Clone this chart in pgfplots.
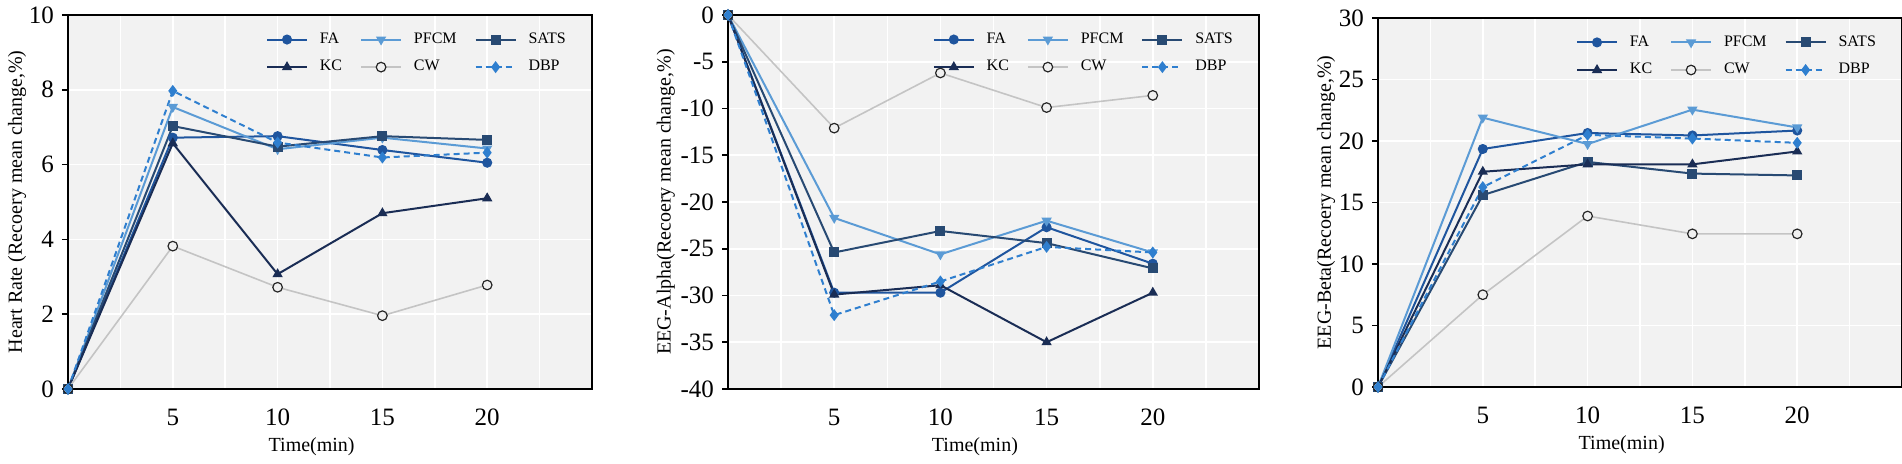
\documentclass[border=0pt]{standalone}
\usepackage{fontspec}
\setmainfont{Liberation Serif}
\usepackage{pgfplots}
\pgfplotsset{compat=1.18}
\definecolor{cFA}{HTML}{1F559E}
\definecolor{cPF}{HTML}{5B9BD5}
\definecolor{cSA}{HTML}{284A73}
\definecolor{cKC}{HTML}{1A2D55}
\definecolor{cCW}{HTML}{C4C4C4}
\definecolor{cDB}{HTML}{2F7FCF}
\definecolor{bgc}{HTML}{F2F2F2}
\pgfplotsset{
  panel/.style={
    scale only axis, clip=false,
    xmin=0, xmax=25,
    xtick={5,10,15,20}, minor xtick={2.5,7.5,12.5,17.5,22.5},
    xmajorgrids, xminorgrids, ymajorgrids,
    grid style={white, line width=0.8pt},
    minor grid style={white, line width=0.8pt},
    axis background/.style={fill=bgc},
    axis line style={black, line width=1pt},
    tick style={black, line width=0.8pt},
    xtick style={draw=none}, minor tick length=0pt,
    ytick pos=left, tick align=outside, major tick length=3pt,
    /pgf/number format/assume math mode=true,
    ticklabel style={font=\fontsize{12.5}{14}\selectfont},
    xticklabel style={yshift=-3.5pt},
    yticklabel style={xshift=-0.5pt},
    label style={font=\fontsize{10}{12}\selectfont},
    xlabel={Time(min)},
    xlabel style={at={(axis description cs:0.465,0)}, anchor=center, yshift=-29pt},
    legend columns=3,
    legend style={draw=none, fill=none, font=\fontsize{8}{9.6}\selectfont,
      at={(0.97,0.975)}, anchor=north east, row sep=3pt},
    legend cell align=left,
    legend image code/.code={\draw[mark repeat=2,mark phase=2] plot coordinates {(0cm,0cm)(0.35cm,0cm)(0.7cm,0cm)};},
    every axis plot/.append style={line width=1pt, mark size=2pt},
    /tikz/every even column/.append style={column sep=7pt},
    /tikz/every odd column/.append style={column sep=4pt},
  },
  sFA/.style={color=cFA, mark=*, mark options={solid, fill=cFA}},
  sPF/.style={color=cPF, mark=triangle*, mark options={solid, rotate=180, fill=cPF}},
  sSA/.style={color=cSA, mark=square*, mark options={solid, fill=cSA}},
  sKC/.style={color=cKC, mark=triangle*, mark options={solid, fill=cKC}},
  sCW/.style={color=cCW, line width=0.8pt, mark=*, mark size=2.4pt, mark options={solid, draw=black!85, fill=gray!12, line width=0.6pt}},
  sDB/.style={color=cDB, dash pattern=on 3pt off 2pt, mark=diamond*, mark size=2.2pt, mark options={solid, fill=cDB}},
}
\begin{document}
\begin{tikzpicture}
% Panel 1: Heart Rate
\begin{axis}[panel, at={(34pt,37.5pt)}, anchor=south west, width=262pt, height=187pt,
  ymin=0, ymax=10, ytick={0,2,4,6,8,10},
  ylabel={Heart Rate (Recoery mean change,\%)},
  ylabel style={at={(axis description cs:-0.097,0.5)}, anchor=center}]
\addplot[sFA] coordinates {(0,0) (5,6.72) (10,6.76) (15,6.39) (20,6.05)};
\addlegendentry{FA}
\addplot[sPF] coordinates {(0,0) (5,7.54) (10,6.41) (15,6.72) (20,6.43)};
\addlegendentry{PFCM}
\addplot[sSA] coordinates {(0,0) (5,7.03) (10,6.48) (15,6.76) (20,6.66)};
\addlegendentry{SATS}
\addplot[sKC] coordinates {(0,0) (5,6.57) (10,3.07) (15,4.70) (20,5.10)};
\addlegendentry{KC}
\addplot[sCW] coordinates {(0,0) (5,3.82) (10,2.72) (15,1.96) (20,2.78)};
\addlegendentry{CW}
\addplot[sDB] coordinates {(0,0) (5,7.97) (10,6.59) (15,6.19) (20,6.32)};
\addlegendentry{DBP}
\end{axis}
% Panel 2: EEG-Alpha
\begin{axis}[panel, at={(364pt,37.5pt)}, anchor=south west, width=265.5pt, height=187pt,
  ymin=-40, ymax=0, ytick={-40,-35,-30,-25,-20,-15,-10,-5,0},
  ylabel={EEG-Alpha(Recoery mean change,\%)},
  ylabel style={at={(axis description cs:-0.117,0.5)}, anchor=center}]
\addplot[sFA] coordinates {(0,0) (5,-29.7) (10,-29.7) (15,-22.7) (20,-26.6)};
\addlegendentry{FA}
\addplot[sPF] coordinates {(0,0) (5,-21.7) (10,-25.6) (15,-22.0) (20,-25.4)};
\addlegendentry{PFCM}
\addplot[sSA] coordinates {(0,0) (5,-25.4) (10,-23.1) (15,-24.4) (20,-27.1)};
\addlegendentry{SATS}
\addplot[sKC] coordinates {(0,0) (5,-29.9) (10,-28.9) (15,-35.0) (20,-29.7)};
\addlegendentry{KC}
\addplot[sCW] coordinates {(0,0) (5,-12.1) (10,-6.2) (15,-9.9) (20,-8.6)};
\addlegendentry{CW}
\addplot[sDB] coordinates {(0,0) (5,-32.1) (10,-28.5) (15,-24.8) (20,-25.4)};
\addlegendentry{DBP}
\end{axis}
% Panel 3: EEG-Beta
\begin{axis}[panel, at={(689pt,38.5pt)}, anchor=south west, width=262pt, height=184.5pt,
  ymin=0, ymax=30, ytick={0,5,10,15,20,25,30},
  ylabel={EEG-Beta(Recoery mean change,\%)},
  ylabel style={at={(axis description cs:-0.099,0.5)}, anchor=center}]
\addplot[sFA] coordinates {(0,0) (5,19.35) (10,20.65) (15,20.45) (20,20.85)};
\addlegendentry{FA}
\addplot[sPF] coordinates {(0,0) (5,21.9) (10,19.75) (15,22.55) (20,21.1)};
\addlegendentry{PFCM}
\addplot[sSA] coordinates {(0,0) (5,15.6) (10,18.3) (15,17.35) (20,17.2)};
\addlegendentry{SATS}
\addplot[sKC] coordinates {(0,0) (5,17.5) (10,18.1) (15,18.1) (20,19.15)};
\addlegendentry{KC}
\addplot[sCW] coordinates {(0,0) (5,7.5) (10,13.9) (15,12.45) (20,12.45)};
\addlegendentry{CW}
\addplot[sDB] coordinates {(0,0) (5,16.25) (10,20.5) (15,20.2) (20,19.85)};
\addlegendentry{DBP}
\end{axis}
\pgfresetboundingbox
\path (0,0) rectangle (951pt,232pt);
\end{tikzpicture}
\end{document}
